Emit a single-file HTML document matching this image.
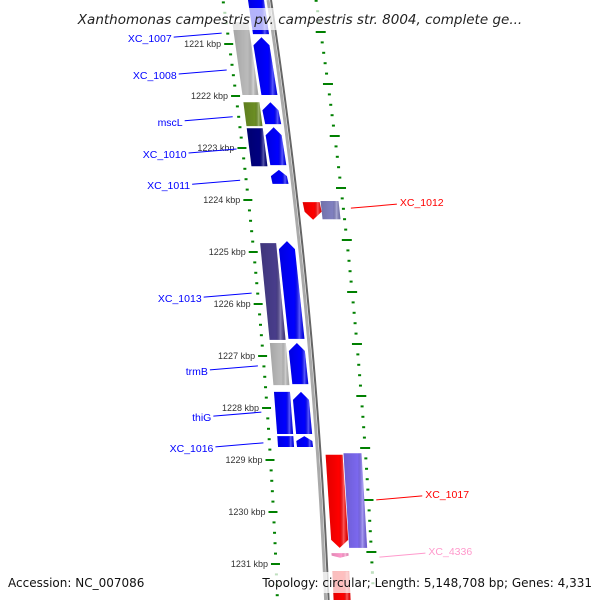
<!DOCTYPE html>
<html><head><meta charset="utf-8"><style>
html,body{margin:0;padding:0;background:#fff}
svg{display:block;font-family:"Liberation Sans",sans-serif}
</style></head><body>
<svg id="map" width="600" height="600" viewBox="0 0 600 600">
<defs>
<linearGradient id="gshade" x1="0" x2="1" y1="0" y2="0">
<stop offset="0" stop-color="#000" stop-opacity="0.12"/><stop offset="0.6" stop-color="#000" stop-opacity="0"/><stop offset="0.8" stop-color="#fff" stop-opacity="0.35"/><stop offset="1" stop-color="#000" stop-opacity="0.1"/>
</linearGradient>
</defs>
<g id="layer"></g>
</svg>
<script>
const kbpTicks=[1221,1222,1223,1224,1225,1226,1227,1228,1229,1230,1231];
const geneStart=[1220.58,1222.12,1222.62,1224.83,1226.75,1227.69,1228.54,1220.15,1220.87,1222.12,1222.6,1223.42,1224.79,1226.75,1227.69,1228.54,1224.04,1228.9,1230.79,1231.15,1224.02,1228.87];
const geneEnd=[1221.98,1222.58,1223.35,1226.69,1227.56,1228.5,1228.75,1220.81,1221.98,1222.54,1223.33,1223.69,1226.67,1227.54,1228.5,1228.75,1224.38,1230.69,1230.88,1231.7,1224.37,1230.69];
const geneTrack=["A","A","A","A","A","A","A","B","B","B","B","B","B","B","B","B","C","C","C","C","D","D"];
const geneColor=["#bbbbbb","#6b8e23","#000080","#483d8b","#bbbbbb","#0000ff","#0000ff","#0000ff","#0000ff","#0000ff","#0000ff","#0000ff","#0000ff","#0000ff","#0000ff","#0000ff","#ff0000","#ff0000","#ff99cc","#ff0000","#8080c0","#7b68ee"];
const geneDir=[0,0,0,0,0,0,0,0,1,1,1,1,1,1,1,1,-1,-1,-1,0,0,0];
const labelNames=["XC_1007","XC_1008","mscL","XC_1010","XC_1011","XC_1013","trmB","thiG","XC_1016","XC_1012","XC_1017","XC_4336"];
const labelKbp=[1220.79,1221.5,1222.4,1223.02,1223.62,1225.79,1227.19,1228.08,1228.67,1224.08,1229.69,1230.79];
const labelSide=["L","L","L","L","L","L","L","L","L","R","R","R"];
const labelColor=["#0000ff","#0000ff","#0000ff","#0000ff","#0000ff","#0000ff","#0000ff","#0000ff","#0000ff","#ff0000","#ff0000","#ff99cc"];

const NS="http://www.w3.org/2000/svg";
const layer=document.getElementById('layer');
function yOf(k){return 44+(k-1221)*52;}
function bb(y){return 267+0.15*y-0.00009*y*y;}
function rulL(y){return bb(y)-44-3*(y/564);}
function mk(t,a,p){const e=document.createElementNS(NS,t);for(const k in a)e.setAttribute(k,a[k]);(p||layer).appendChild(e);return e;}
const trackOff={A:[-38,-22],B:[-19,-3],C:[9,26],D:[27,45]};

let pl="",pr="";
for(let y=0;y<=600;y+=10){pl+=(bb(y)+1)+","+y+" ";pr+=(bb(y)+4)+","+y+" ";}
let bbPath=mk('polyline',{points:pl,fill:'none',stroke:'#aaa',"stroke-width":3});

let bb2=mk('polyline',{points:pr,fill:'none',stroke:'#666',"stroke-width":2});


const rulerG=mk('g',{});

for(let k=1220;k<=1232;k+=0.2){
  const kk=Math.round(k*10)/10;const y=yOf(kk);if(y<-5||y>605)continue;
  const major=Math.abs(kk-Math.round(kk))<0.01;
  const xl=rulL(y);
  mk('line',{x1:major?xl-5:xl-1.5,x2:xl+(major?4:1.5),y1:y,y2:y,stroke:'#008000',"stroke-width":2},rulerG);
  const yr=y-12;const xr=bb(yr)+49;
  mk('line',{x1:major?xr-5:xr-1.5,x2:major?xr+5:xr+1.5,y1:yr,y2:yr,stroke:'#008000',"stroke-width":2},rulerG);
}
kbpTicks.forEach(k=>{const y=yOf(k);const t=mk('text',{x:rulL(y)-8,y:y+3,"text-anchor":"end","font-size":9,fill:'#333'},rulerG);t.textContent=k+" kbp";
});

geneStart.forEach((s,i)=>{
  const y1=yOf(s),y2=yOf(geneEnd[i]);const o=trackOff[geneTrack[i]];
  const xa1=bb(y1)+o[0],xb1=bb(y1)+o[1],xa2=bb(y2)+o[0],xb2=bb(y2)+o[1];
  let pts;const d=geneDir[i];const h=Math.min(8,(y2-y1)*0.45);
  if(d===1){const m1=(xa1+xb1)/2;pts=[[m1,y1],[xb1,y1+h],[xb2,y2],[xa2,y2],[xa1,y1+h]];}
  else if(d===-1){const m2=(xa2+xb2)/2;pts=[[xa1,y1],[xb1,y1],[xb2,y2-h],[m2,y2],[xa2,y2-h]];}
  else pts=[[xa1,y1],[xb1,y1],[xb2,y2],[xa2,y2]];
  const P=pts.map(p=>p.join(",")).join(" ");
  const g=mk('polygon',{points:P,fill:geneColor[i]});
  
  const sh=mk('polygon',{points:P,fill:'url(#gshade)'});
  
});

labelNames.forEach((n,i)=>{
  const y=yOf(labelKbp[i]);let t,l;
  if(labelSide[i]==="L"){const x2=rulL(y)-6;
    l=mk('line',{x1:x2-48,y1:y+4,x2:x2,y2:y,stroke:labelColor[i],"stroke-width":1});
    t=mk('text',{x:x2-50,y:y+9,"text-anchor":"end","font-size":10.5,fill:labelColor[i]});}
  else{const x1=bb(y)+57;
    l=mk('line',{x1:x1,y1:y+4,x2:x1+46,y2:y,stroke:labelColor[i],"stroke-width":1});
    t=mk('text',{x:x1+49,y:y+2,"font-size":10.5,fill:labelColor[i]});}
  t.textContent=n;
  
  
});

const ov1=mk('rect',{x:0,y:8,width:600,height:22,fill:'#fff',"fill-opacity":0.7});

const tt=mk('text',{x:300,y:24,"text-anchor":"middle","font-size":13.5,"font-style":"italic","font-family":"DejaVu Sans, sans-serif",fill:'#222'});
tt.textContent="Xanthomonas campestris pv. campestris str. 8004, complete ge...";

const ov2=mk('rect',{x:0,y:572,width:600,height:21,fill:'#fff',"fill-opacity":0.75});

const a=mk('text',{x:8,y:587,"font-size":12,"font-family":"DejaVu Sans, sans-serif",fill:'#111'});a.textContent="Accession: NC_007086";

const b=mk('text',{x:592,y:587,"text-anchor":"end","font-size":12,"font-family":"DejaVu Sans, sans-serif",fill:'#111'});b.textContent="Topology: circular; Length: 5,148,708 bp; Genes: 4,331";

</script>
</body></html>
